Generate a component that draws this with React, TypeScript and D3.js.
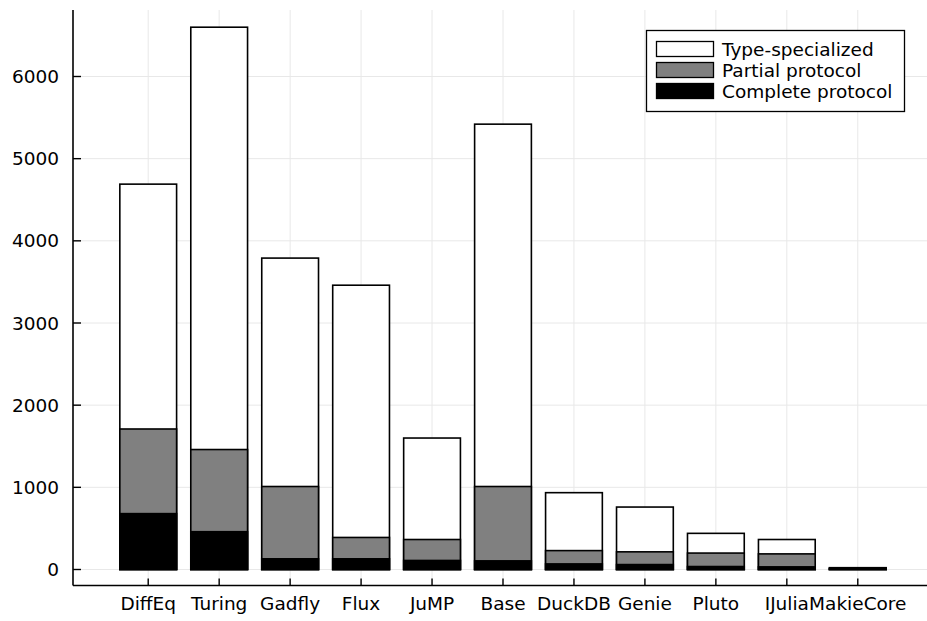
import React from "react";
import * as d3 from "d3";

const categories = ["DiffEq", "Turing", "Gadfly", "Flux", "JuMP", "Base", "DuckDB", "Genie", "Pluto", "IJulia", "MakieCore"];
// heights drawn overlapping (each series as the top of its bar)
const typeSpecialized = [4690, 6600, 3790, 3460, 1600, 5420, 935, 760, 440, 365, 22];
const partialProtocol = [1710, 1460, 1010, 390, 365, 1010, 230, 215, 200, 190, 14];
const completeProtocol = [680, 460, 130, 130, 110, 105, 68, 60, 36, 32, 8];
const yTicks = [0, 1000, 2000, 3000, 4000, 5000, 6000];
const seriesNames = ["Type-specialized", "Partial protocol", "Complete protocol"];
const seriesColors = ["#ffffff", "#808080", "#000000"];

const W = 927, H = 621;
const FONT = "DejaVu Sans, sans-serif";
const FS = 18.5;

export default function App() {
  const x = d3.scaleLinear().domain([-1.06, 11.06]).range([73, 933]);
  const y = d3.scaleLinear().domain([0, 6000]).range([569.5, 76.5]);
  const left = 73, top = 10, bottom = 585.5, right = 927;
  const bw = 0.8;
  const series = [typeSpecialized, partialProtocol, completeProtocol];

  return (
    <svg width={W} height={H} style={{ position: "absolute", left: 0, top: 0, background: "#fff" }}>
      <rect x={0} y={0} width={W} height={H} fill="#fff" />
      {/* grid */}
      {categories.map((c, i) => (
        <line key={"gx" + c} x1={x(i)} x2={x(i)} y1={top} y2={bottom} stroke="#e8e8e8" strokeWidth={1} />
      ))}
      {yTicks.map((t) => (
        <line key={"gy" + t} x1={left} x2={right} y1={y(t)} y2={y(t)} stroke="#e8e8e8" strokeWidth={1} />
      ))}
      {/* bars */}
      {series.map((s, si) =>
        s.map((v, i) => (
          <rect
            key={si + "-" + i}
            x={x(i - bw / 2)}
            y={y(v)}
            width={x(i + bw / 2) - x(i - bw / 2)}
            height={y(0) - y(v)}
            fill={seriesColors[si]}
            stroke="#000"
            strokeWidth={1.6}
          />
        ))
      )}
      {/* axes */}
      <line x1={left} x2={left} y1={top} y2={bottom} stroke="#000" strokeWidth={1.6} />
      <line x1={left} x2={right} y1={bottom} y2={bottom} stroke="#000" strokeWidth={1.6} />
      {yTicks.map((t) => (
        <g key={"yt" + t}>
          <line x1={left} x2={left + 8} y1={y(t)} y2={y(t)} stroke="#000" strokeWidth={1.4} />
          <text x={59} y={y(t)} dy="0.36em" textAnchor="end" fontFamily={FONT} fontSize={FS} fill="#000">
            {t}
          </text>
        </g>
      ))}
      {categories.map((c, i) => (
        <g key={"xt" + c}>
          <line x1={x(i)} x2={x(i)} y1={bottom} y2={bottom - 7} stroke="#000" strokeWidth={1.4} />
          <text x={x(i)} y={610} textAnchor="middle" fontFamily={FONT} fontSize={FS} fill="#000">
            {c}
          </text>
        </g>
      ))}
      {/* legend */}
      <rect x={646.5} y={30.5} width={258} height={81} fill="#fff" stroke="#000" strokeWidth={1.3} />
      {seriesNames.map((n, k) => (
        <g key={n}>
          <rect x={656.5} y={41.5 + k * 21} width={57} height={15} fill={seriesColors[k]} stroke="#000" strokeWidth={1.3} />
          <text x={722} y={49 + k * 21} dy="0.36em" fontFamily={FONT} fontSize={FS} fill="#000">
            {n}
          </text>
        </g>
      ))}
    </svg>
  );
}
